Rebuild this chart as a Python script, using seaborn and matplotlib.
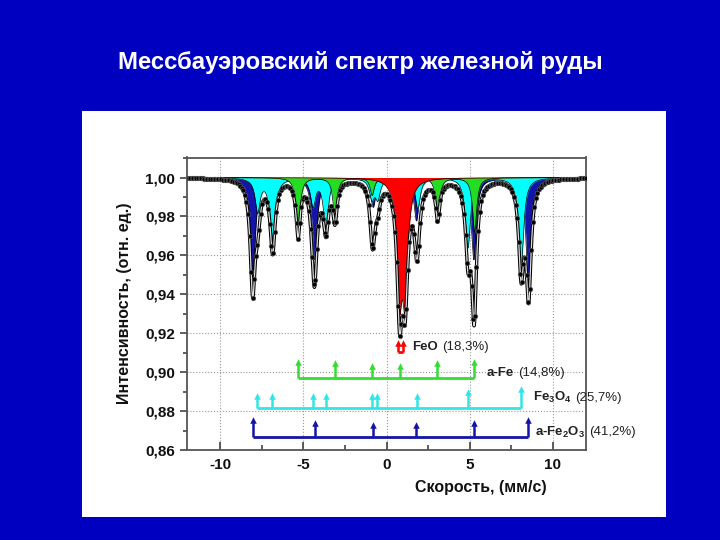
import numpy as np
import pandas as pd
import matplotlib
matplotlib.use("Agg")
import matplotlib.pyplot as plt
import matplotlib.patches as mpatches
from matplotlib.ticker import MultipleLocator, FuncFormatter
import seaborn as sns

# --- line parameters (velocity, depth) ---
hem_pos = [-8.05, -4.32, -0.80, 1.80, 5.25, 8.55]
hem_depth = [0.056, 0.042, 0.015, 0.022, 0.042, 0.058]
hem_hwhm = 0.18

mag_pos = [-7.75, -6.85, -4.42, -3.65, -0.88, -0.52, 1.88, 4.90, 8.10]
mag_depth = [0.017, 0.037, 0.014, 0.025, 0.010, 0.010, 0.016, 0.036, 0.046]
mag_hwhm = 0.18

fe_pos = [-5.32, -3.10, -0.86, 0.84, 3.08, 5.30]
fe_depth = [0.028, 0.020, 0.009, 0.009, 0.020, 0.028]
fe_hwhm = 0.15

feo_pos = [0.78, 1.12]
feo_depth = [0.0565, 0.0565]
feo_hwhm = 0.19

# stick diagram: base level and tip heights
hem_sticks = [-8.06, -4.33, -0.80, 1.80, 5.25, 8.50]
hem_tips = [0.8767, 0.8753, 0.8738, 0.8738, 0.8753, 0.8767]
hem_base = 0.8668

mag_sticks = [-7.79, -6.89, -4.42, -3.66, -0.90, -0.55, 1.86, 4.88, 8.10]
mag_tips = [0.889, 0.889, 0.889, 0.889, 0.889, 0.889, 0.889, 0.8908, 0.8925]
mag_base = 0.8814

fe_sticks = [-5.32, -3.12, -0.88, 0.82, 3.06, 5.26]
fe_tips = [0.9062, 0.9058, 0.9046, 0.9046, 0.9058, 0.9062]
fe_base = 0.8968

feo_sticks = [0.68, 1.00]
feo_tips = [0.9164, 0.9164]
feo_base = 0.9104

labels = ["FeO", "a-Fe", "Fe$_3$O$_4$", "a-Fe$_2$O$_3$"]
percents = ["(18,3%)", "(14,8%)", "(25,7%)", "(41,2%)"]
label_x = [1.55, 6.05, 8.80, 8.95]
label_y = [0.9112, 0.8978, 0.8852, 0.8675]

velocity = np.linspace(-12, 12, 256)

BG = "#0000C0"
c_hem = "#1414A8"
c_mag = "#00FFFF"
c_fe = "#22DD22"
c_feo = "#FF0000"


def absorption(x, pos, depth, hwhm):
    a = np.zeros_like(x)
    for p, d in zip(pos, depth):
        a += d / (1 + ((x - p) / hwhm) ** 2)
    return a


sns.set_theme(style="ticks")
plt.rcParams["font.family"] = ["Liberation Sans", "DejaVu Sans"]
plt.rcParams["mathtext.fontset"] = "custom"
plt.rcParams["mathtext.rm"] = "Liberation Sans:bold"
plt.rcParams["mathtext.bf"] = "Liberation Sans:bold"
plt.rcParams["mathtext.default"] = "bf"

fig = plt.figure(figsize=(7.2, 5.4), dpi=100)
fig.patch.set_facecolor(BG)
fig.patches.append(mpatches.Rectangle((82 / 720, 23 / 540), 584 / 720, 406 / 540,
                                      transform=fig.transFigure, facecolor="white",
                                      edgecolor="none", zorder=-5))
fig.text(0.5, 1 - 62 / 540, "Мессбауэровский спектр железной руды", color="white",
         fontsize=17.2, fontweight="bold", ha="center", va="center")

ax = fig.add_axes([187 / 720, 90 / 540, 399 / 720, 292.5 / 540])
ax.set_facecolor("white")

# drawing order: hematite, magnetite, iron, FeO
comps = [
    (hem_pos, hem_depth, hem_hwhm, c_hem),
    (mag_pos, mag_depth, mag_hwhm, c_mag),
    (fe_pos, fe_depth, fe_hwhm, c_fe),
    (feo_pos, feo_depth, feo_hwhm, c_feo),
]
total = np.ones_like(velocity)
xf = np.linspace(-12, 12, 2400)
for i, (pos, depth, hw, col) in enumerate(comps):
    yc = 1 - absorption(xf, pos, depth, hw)
    ax.fill_between(xf, yc, 1.0, color=col, lw=0, zorder=2 + 0.1 * i)
    ax.plot(xf, yc, color="black", lw=0.5, zorder=2.05 + 0.1 * i)
    total = total - absorption(velocity, pos, depth, hw)

fit = 1 - sum(absorption(xf, p, d, h) for p, d, h, _ in comps)
df = pd.DataFrame({"v": velocity, "I": total})
ax.plot(xf, fit, color="black", lw=2.4, zorder=4)
ax.plot(xf, fit, color="#dddddd", lw=0.9, zorder=5)
sns.scatterplot(data=df, x="v", y="I", ax=ax, color="black", s=12,
                edgecolor="#888888", linewidth=0.3, zorder=6, legend=False)

# stick diagrams
for sticks, tips, base, col in [(hem_sticks, hem_tips, hem_base, c_hem),
                                (mag_sticks, mag_tips, mag_base, "#33E5E5"),
                                (fe_sticks, fe_tips, fe_base, "#33DD33"),
                                (feo_sticks, feo_tips, feo_base, c_feo)]:
    ax.hlines(base, min(sticks), max(sticks), color=col, lw=2, zorder=4)
    ax.vlines(sticks, base, np.array(tips) - 0.0015, color=col, lw=1.8, zorder=4)
    ax.scatter(sticks, np.array(tips) - 0.0012, marker="^", s=22, color=col,
               linewidths=0, zorder=5)

fig.canvas.draw()
rend = fig.canvas.get_renderer()
for name, pct, lx, ly in zip(labels, percents, label_x, label_y):
    t = ax.text(lx, ly, name, fontsize=9.5, fontweight="bold", color="#222222",
                ha="left", va="baseline", zorder=7)
    w = t.get_window_extent(renderer=rend).width * 72 / fig.dpi
    ax.annotate(pct, xy=(lx, ly), xytext=(w + 3, 0), textcoords="offset points",
                fontsize=9.5, color="#222222", ha="left", va="baseline", zorder=7)

ax.set_xlim(-12, 12)
ax.set_ylim(0.86, 1.0103)
ax.xaxis.set_major_locator(MultipleLocator(5))
ax.xaxis.set_minor_locator(MultipleLocator(2.5))
ax.yaxis.set_major_locator(MultipleLocator(0.02))
ax.yaxis.set_minor_locator(MultipleLocator(0.01))
ax.yaxis.set_major_formatter(FuncFormatter(lambda v, p: f"{v:.2f}".replace(".", ",")))
ax.xaxis.set_major_formatter(FuncFormatter(lambda v, p: f"{v:.0f}"))
ax.grid(True, which="major", linestyle=":", color="#999999", lw=0.8)
ax.set_axisbelow(True)
ax.tick_params(axis="x", which="both", direction="in", labelsize=11, width=1.1, colors="#333333",
               labelcolor="#111111", pad=5.5)
ax.tick_params(axis="x", which="major", length=6)
ax.tick_params(axis="x", which="minor", length=3.5)
ax.tick_params(axis="y", which="both", direction="out", labelsize=11, width=1.1, colors="#333333",
               labelcolor="#111111")
ax.tick_params(axis="y", which="major", length=5)
ax.tick_params(axis="y", which="minor", length=3)
for lab in ax.get_xticklabels() + ax.get_yticklabels():
    lab.set_fontweight("bold")
for sp in ax.spines.values():
    sp.set_visible(True)
    sp.set_color("#555555")
    sp.set_linewidth(1.3)

ax.set_xlabel("Скорость, (мм/с)", fontsize=11.5, fontweight="bold", color="#111111")
ax.set_ylabel("Интенсивность, (отн. ед.)", fontsize=11.5, fontweight="bold", color="#111111")
ax.xaxis.set_label_coords(0.737, -0.104)
ax.yaxis.set_label_coords(-0.138, 0.5)

fig.savefig("out.png", dpi=100, facecolor=BG)
